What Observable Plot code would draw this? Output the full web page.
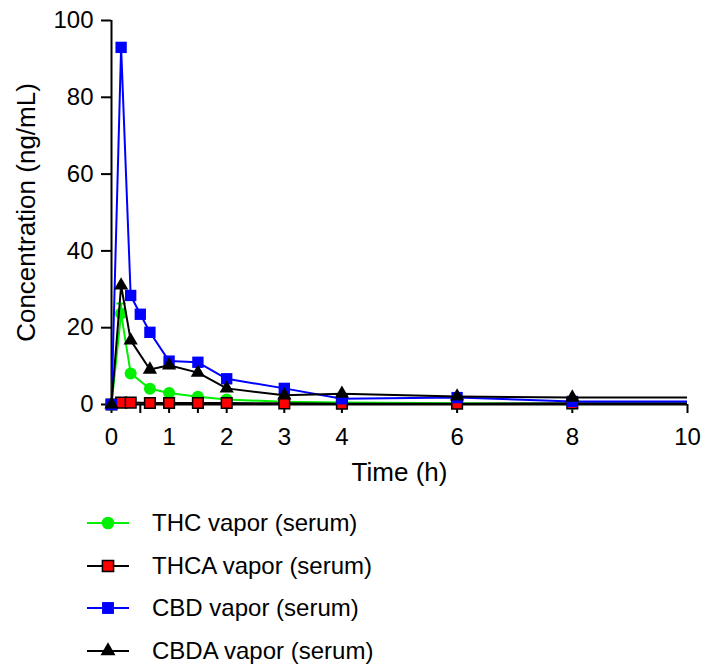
<!DOCTYPE html>
<html>
<head>
<meta charset="utf-8">
<script src="https://cdn.jsdelivr.net/npm/d3@7"></script>
<script src="https://cdn.jsdelivr.net/npm/@observablehq/plot@0.6"></script>
<style>
  body { margin: 0; background: white; font-family: "Liberation Sans", Arial, sans-serif; }
  #wrap { position: relative; width: 705px; height: 669px; }
  #legend { position: relative; width: 705px; height: 174px; }
  .row { position: absolute; left: 80px; height: 30px; display: flex; align-items: center; font-size: 24px; color: black; white-space: nowrap; }
  .row span { margin-left: 16px; }
</style>
</head>
<body>
<div id="wrap"><div id="chart"></div><div id="legend"></div></div>
<script>
// ---- data ----
const seriesNames = ["THC vapor (serum)", "THCA vapor (serum)", "CBD vapor (serum)", "CBDA vapor (serum)"];

const thcTime  = [0, 0.167, 0.333, 0.667, 1, 1.5, 2, 3, 4, 6, 8, 24];
const thcConc  = [0, 23.7, 8.1, 4.1, 3.0, 2.0, 1.3, 0.7, 0.5, 0.3, 0.2, 0.2];
const thcErrTime = [0.167];
const thcErrMean = [23.7];
const thcErrSem  = [2.6];

const thcaTime = [0, 0.167, 0.333, 0.667, 1, 1.5, 2, 3, 4, 6, 8, 24];
const thcaConc = [0, 0.5, 0.5, 0.4, 0.4, 0.4, 0.4, 0.3, 0.2, 0.2, 0.3, 0.3];

const cbdTime  = [0, 0.167, 0.333, 0.5, 0.667, 1, 1.5, 2, 3, 4, 6, 8, 24];
const cbdConc  = [0, 93.0, 28.4, 23.5, 18.8, 11.3, 11.0, 6.7, 4.2, 1.5, 1.8, 0.8, 0.7];

const cbdaTime = [0, 0.167, 0.333, 0.667, 1, 1.5, 2, 3, 4, 6, 8, 24];
const cbdaConc = [0, 31.0, 16.7, 9.1, 10.2, 8.3, 4.2, 2.4, 2.8, 2.1, 1.8, 1.8];

const xTicks  = [0, 0.5, 1, 1.5, 2, 3, 4, 6, 8, 10];
const xLabels = [0, 1, 2, 3, 4, 6, 8, 10];
const yTicks  = [0, 20, 40, 60, 80, 100];
const xTitle = "Time (h)";
const yTitle = "Concentration (ng/mL)";

// ---- build ----
const toRows = (t, v) => t.map((d, i) => ({t: d, v: v[i]}));
const series = [
  {name: seriesNames[0], data: toRows(thcTime, thcConc),  line: "#00f000", fill: "#00f000", stroke: "none",  symbol: "circle",   r: 6.0},
  {name: seriesNames[1], data: toRows(thcaTime, thcaConc), line: "black",   fill: "#ff0000", stroke: "black", symbol: "square",   r: 6.0},
  {name: seriesNames[2], data: toRows(cbdTime, cbdConc),  line: "#0000ff", fill: "#0000ff", stroke: "none",  symbol: "square",   r: 6.4},
  {name: seriesNames[3], data: toRows(cbdaTime, cbdaConc), line: "black",   fill: "black",   stroke: "none",  symbol: "triangle", r: 5.3}
];
const errRows = thcErrTime.map((t, i) => ({t, lo: thcErrMean[i], hi: thcErrMean[i] + thcErrSem[i]}));
const capSymbol = {draw(ctx, size) { const w = Math.sqrt(size); ctx.moveTo(-w, 0); ctx.lineTo(w, 0); }};

const marks = [
  Plot.axisX({ticks: xTicks, tickFormat: d => xLabels.includes(d) ? String(d) : "", tickSize: 9, tickPadding: 14, fontSize: 24, strokeWidth: 2, label: null}),
  Plot.axisY({ticks: yTicks, tickSize: 10, tickPadding: 8, fontSize: 24, strokeWidth: 2, label: null}),
  Plot.ruleY([0], {strokeWidth: 2}),
  Plot.ruleX([0], {strokeWidth: 2}),
  Plot.text([xTitle], {frameAnchor: "bottom", dy: 76, lineAnchor: "bottom", fontSize: 26}),
  Plot.text([yTitle], {frameAnchor: "left", dx: -85, rotate: -90, textAnchor: "middle", fontSize: 26})
];
series.forEach((s, i) => {
  marks.push(Plot.line(s.data, {x: "t", y: "v", stroke: s.line, strokeWidth: 2, clip: true}));
  if (i === 0) {
    marks.push(Plot.ruleX(errRows, {x: "t", y1: "lo", y2: "hi", stroke: s.line, strokeWidth: 2}));
    marks.push(Plot.dot(errRows, {x: "t", y: "hi", symbol: capSymbol, r: 2.7, stroke: s.line, strokeWidth: 2, fill: "none"}));
  }
  marks.push(Plot.dot(s.data.filter(d => d.t <= 10), {x: "t", y: "v", symbol: s.symbol, r: s.r, fill: s.fill, stroke: s.stroke, strokeWidth: 1.5}));
});

const chart = Plot.plot({
  width: 705, height: 495,
  marginLeft: 111, marginRight: 18, marginTop: 20, marginBottom: 91,
  style: {fontFamily: "'Liberation Sans', Arial, sans-serif", color: "black", background: "white", overflow: "visible"},
  x: {domain: [0, 10]},
  y: {domain: [0, 100]},
  marks
});
document.getElementById("chart").appendChild(chart);

// ---- legend ----
const legend = d3.select("#legend");
const symMap = {circle: d3.symbolCircle, square: d3.symbolSquare, triangle: d3.symbolTriangle};
series.forEach((s, i) => {
  const row = legend.append("div").attr("class", "row").style("top", (13 + i * 42.7) + "px");
  const svg = row.append("svg").attr("width", 56).attr("height", 30);
  svg.append("line").attr("x1", 7).attr("x2", 49).attr("y1", 15).attr("y2", 15).attr("stroke", s.line).attr("stroke-width", 2);
  svg.append("path").attr("transform", "translate(28,15)")
    .attr("d", d3.symbol(symMap[s.symbol], Math.PI * s.r * s.r * 1.1)())
    .attr("fill", s.fill).attr("stroke", s.stroke).attr("stroke-width", 1.5);
  row.append("span").text(s.name);
});
</script>
</body>
</html>
